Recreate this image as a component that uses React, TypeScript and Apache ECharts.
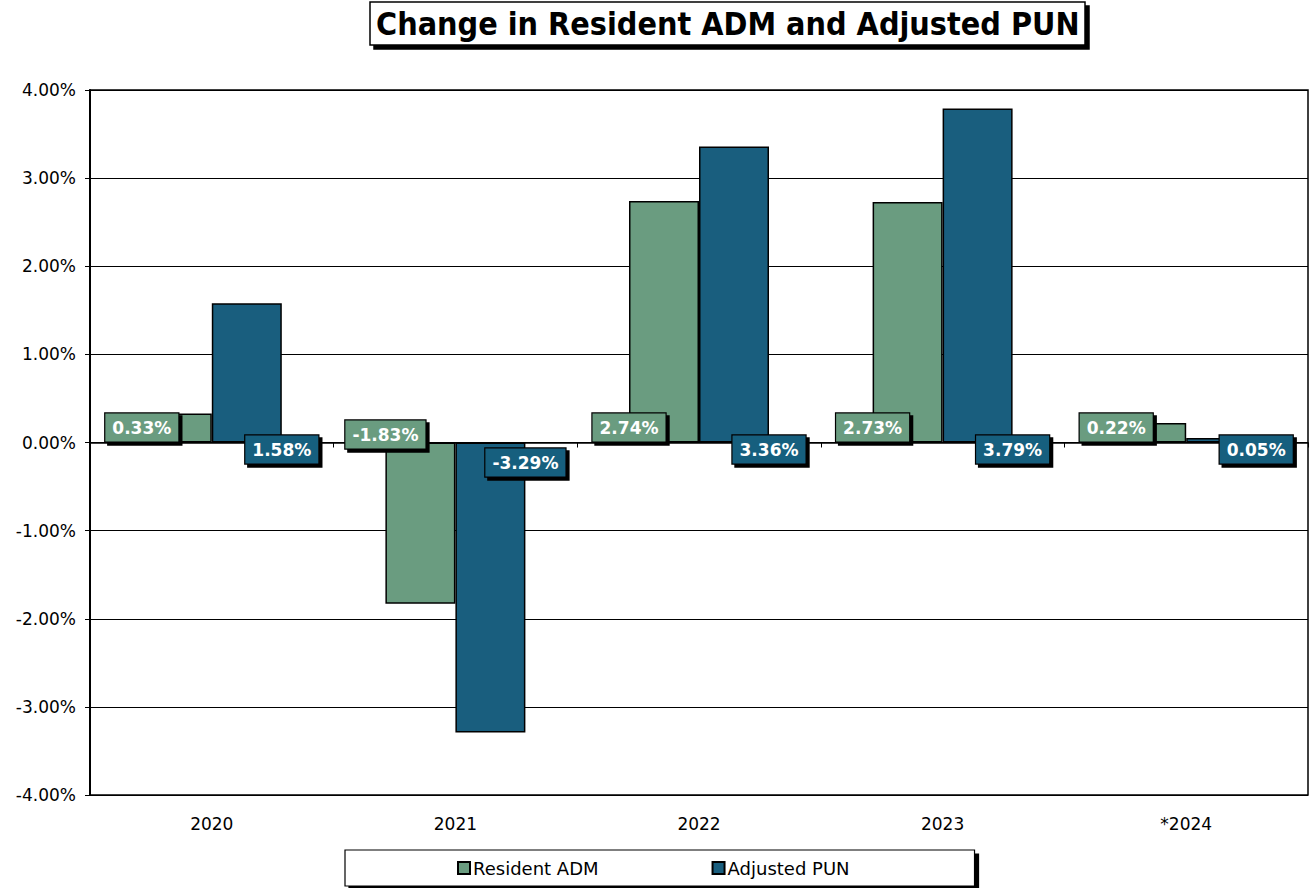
import React, { useEffect, useRef } from "react";
import * as echarts from "echarts";

const categories = ["2020", "2021", "2022", "2023", "*2024"];
const residentADM = [0.33, -1.83, 2.74, 2.73, 0.22];
const adjustedPUN = [1.58, -3.29, 3.36, 3.79, 0.05];
const seriesNames = ["Resident ADM", "Adjusted PUN"];

const GREEN = "#6a9c80";
const BLUE = "#195e7e";
const BAR_W = 70;
const FONT = "DejaVu Sans";

const fmt = (v: number) => v.toFixed(2) + "%";

export default function App() {
  const ref = useRef<HTMLDivElement>(null);
  useEffect(() => {
    if (!ref.current) return;
    const chart = echarts.init(ref.current, null, { renderer: "svg" });
    const labelStyle = (text: string, bg: string) => ({
      text,
      fill: "#fff",
      fontFamily: FONT,
      fontWeight: "bold",
      fontSize: 17,
      backgroundColor: bg,
      borderColor: "#000",
      borderWidth: 1.2,
      padding: [6, 7, 5, 7],
      align: "center",
      shadowColor: "#000",
      shadowOffsetX: 3,
      shadowOffsetY: 3,
      shadowBlur: 0,
    });
    chart.setOption({
      animation: false,
      backgroundColor: "#fff",
      title: {
        text: "Change in Resident ADM and Adjusted PUN",
        left: 370,
        top: 2,
        padding: [6, 6, 5, 6],
        backgroundColor: "#fff",
        borderColor: "#000",
        borderWidth: 1.5,
        shadowColor: "#000",
        shadowOffsetX: 4,
        shadowOffsetY: 4,
        shadowBlur: 0,
        textStyle: {
          fontFamily: "DejaVu Sans Condensed",
          fontWeight: "bold",
          fontSize: 32,
          color: "#000",
        },
      },
      legend: {
        data: seriesNames,
        left: 345,
        top: 850,
        padding: [9, 125, 9, 112],
        itemGap: 113,
        itemWidth: 12,
        itemHeight: 12,
        icon: "rect",
        backgroundColor: "#fff",
        borderColor: "#000",
        borderWidth: 1.2,
        shadowColor: "#000",
        shadowOffsetX: 4,
        shadowOffsetY: 4,
        shadowBlur: 0,
        textStyle: { fontFamily: FONT, fontSize: 18, color: "#000", padding: [0, 0, 0, -2] },
      },
      grid: {
        left: 90,
        right: 4,
        top: 90,
        bottom: 93,
        show: true,
        borderColor: "#000",
        borderWidth: 1.5,
        containLabel: false,
      },
      xAxis: [
        {
          type: "category",
          data: categories,
          axisLine: { onZero: true, lineStyle: { color: "#000", width: 1.5 } },
          axisTick: { show: true, length: 5, lineStyle: { color: "#000" } },
          axisLabel: { show: false },
        },
        {
          type: "category",
          data: categories,
          position: "bottom",
          axisLine: { show: false, onZero: false },
          axisTick: { show: false },
          axisLabel: { margin: 20, fontFamily: FONT, fontSize: 17, color: "#000" },
        },
      ],
      yAxis: {
        type: "value",
        min: -4,
        max: 4,
        interval: 1,
        axisLine: { show: true, lineStyle: { color: "#000", width: 2 } },
        axisTick: { show: true, length: 5, lineStyle: { color: "#000" } },
        splitLine: { show: true, lineStyle: { color: "#000", width: 1 } },
        axisLabel: {
          formatter: (v: number) => fmt(v),
          fontFamily: FONT,
          fontSize: 17,
          color: "#000",
          margin: 14,
        },
      },
      series: [
        {
          name: seriesNames[0],
          type: "bar",
          data: residentADM,
          barWidth: BAR_W,
          barGap: "0%",
          itemStyle: { color: GREEN, borderColor: "#000", borderWidth: 1.5 },
        },
        {
          name: seriesNames[1],
          type: "bar",
          data: adjustedPUN,
          barWidth: BAR_W,
          barGap: "0%",
          itemStyle: { color: BLUE, borderColor: "#000", borderWidth: 1.5 },
        },
        {
          type: "custom",
          z: 10,
          clip: false,
          silent: true,
          encode: { x: 0, y: [1, 2] },
          data: categories.map((c, i) => [i, residentADM[i], adjustedPUN[i]]),
          renderItem: (params: any, api: any) => {
            const idx = api.value(0);
            const adm = api.value(1);
            const pun = api.value(2);
            const p = api.coord([idx, 0]);
            return {
              type: "group",
              children: [
                {
                  type: "text",
                  x: p[0] - BAR_W,
                  y: p[1] - 1 + (adm < 0 ? 7 : 0),
                  style: { ...labelStyle(fmt(adm), GREEN), verticalAlign: "bottom" },
                },
                {
                  type: "text",
                  x: p[0] + BAR_W,
                  y: p[1] - 7 + (pun < 0 ? 13 : 0),
                  style: { ...labelStyle(fmt(pun), BLUE), verticalAlign: "top" },
                },
              ],
            };
          },
        },
      ],
    });
    return () => chart.dispose();
  }, []);
  return (
    <div
      ref={ref}
      style={{ position: "fixed", left: 0, top: 0, width: 1312, height: 888 }}
    />
  );
}
